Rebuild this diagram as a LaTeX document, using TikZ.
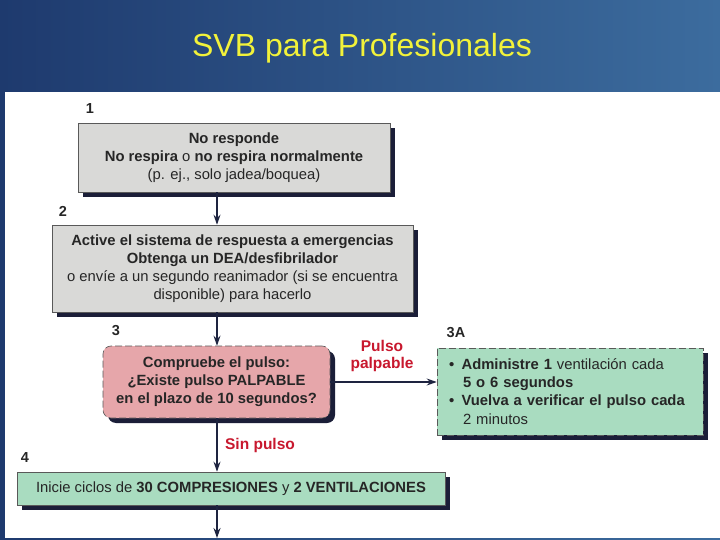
\documentclass[tikz,border=0pt]{standalone}
\usepackage{fontspec}
\setmainfont{Liberation Sans}
\usetikzlibrary{arrows.meta,shadows}
\definecolor{bgl}{HTML}{1E3A6E}
\definecolor{bgr}{HTML}{3C6C9E}
\definecolor{titlec}{HTML}{F2F23A}
\definecolor{grayc}{HTML}{D9D9D7}
\definecolor{pinkc}{HTML}{E6A6AA}
\definecolor{greenc}{HTML}{A9DCC0}
\definecolor{shadowc}{HTML}{1B1E38}
\definecolor{redc}{HTML}{C8182E}
\definecolor{arrc}{HTML}{1E2440}
\begin{document}
\begin{tikzpicture}[x=1pt,y=-1pt,
  boxstyle/.style={draw=gray!70!black, line width=0.6pt, align=center, inner sep=0pt,
    font=\fontsize{14.8}{18.2}\selectfont, text=black!85,
    general shadow={fill=shadowc, shadow xshift=5pt, shadow yshift=-5pt}},
  dashbox/.style={boxstyle, dash pattern=on 7pt off 3pt, draw=black!65},
  arr/.style={draw=arrc, line width=1.3pt, -{Stealth[length=10pt,width=7pt]}},
  steplabel/.style={font=\fontsize{14.5}{14.5}\selectfont\bfseries, text=black!85, inner sep=0pt},
  redlabel/.style={font=\fontsize{15.5}{17.5}\selectfont\bfseries, text=redc, align=center, inner sep=0pt}]
\useasboundingbox (0,0) rectangle (720,540);
\shade[left color=bgl, right color=bgr] (0,0) rectangle (720,540);
\fill[white] (5,92) rectangle (720,538);
\node[font=\fontsize{32}{32}\selectfont, text=titlec] (title) at (362,48) {SVB para Profesionales};

\coordinate (sp) at (217,0);
\coordinate (end) at (217,538);

\node[steplabel] (l1) at (90,109) {1};
\node[boxstyle, fill=grayc, minimum width=312pt, minimum height=69pt] (b1) at (234,157.5)
  {\textbf{No responde}\\ \textbf{No respira} o \textbf{no respira normalmente}\\ (p. ej., solo jadea/boquea)};

\node[steplabel] (l2) at (63,211) {2};
\node[boxstyle, fill=grayc, minimum width=361pt, minimum height=87pt] (b2) at (232.5,268.5)
  {\textbf{Active el sistema de respuesta a emergencias}\\ \textbf{Obtenga un DEA/desfibrilador}\\ o envíe a un segundo reanimador (si se encuentra\\ disponible) para hacerlo};

\node[steplabel] (l3) at (116,331) {3};
\node[dashbox, fill=pinkc, rounded corners=8pt, minimum width=227pt, minimum height=72pt] (b3) at (216.5,382)
  {\textbf{Compruebe el pulso:}\\ \textbf{¿Existe pulso PALPABLE}\\ \textbf{en el plazo de 10 segundos?}};

\node[steplabel] (l3a) at (456,333) {3A};
\node[dashbox, fill=greenc, minimum width=266pt, minimum height=87pt, align=left, inner xsep=12pt, text width=242pt] (b3a) at (570,391.5)
  {\textbf{\textbullet\enspace Administre 1} ventilación cada\\ \hspace*{0.95em}\textbf{5 o 6 segundos}\\ \textbf{\textbullet\enspace Vuelva a verificar el pulso cada}\\ \hspace*{0.95em}2 minutos};

\node[steplabel] (l4) at (25,458) {4};
\node[boxstyle, fill=greenc, minimum width=428pt, minimum height=33pt] (b4) at (231,488.5)
  {Inicie ciclos de \textbf{30 COMPRESIONES} y \textbf{2 VENTILACIONES}};

\node[redlabel] (pp) at (382,356) {Pulso\\ palpable};
\node[redlabel] (sp2) at (260,445) {Sin pulso};

\draw[arr] (b1.south -| sp) -- (b2.north -| sp);
\draw[arr] (b2.south -| sp) -- (b3.north -| sp);
\draw[arr] (b3.east) -- (b3a.west |- b3.east);
\draw[arr] (b3.south -| sp) -- (b4.north -| sp);
\draw[arr] (b4.south -| sp) -- (end);
\end{tikzpicture}
\end{document}
